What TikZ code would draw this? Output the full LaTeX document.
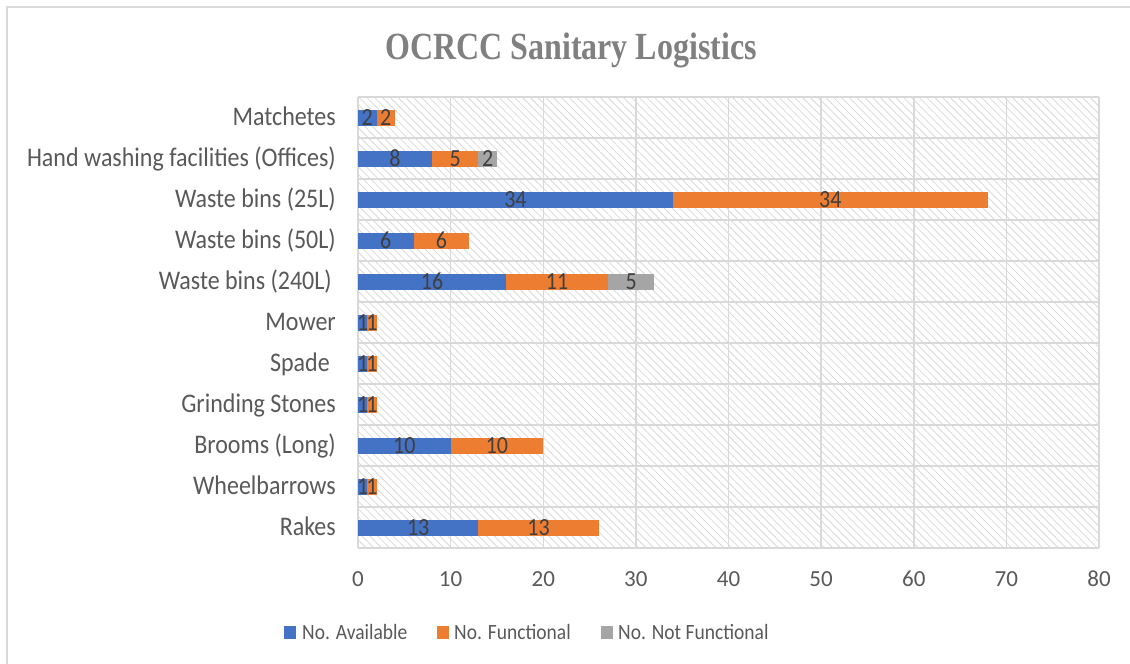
\documentclass[tikz,border=0pt]{standalone}
\usepackage{fontspec}
\usepackage{graphicx}
\setmainfont{Carlito}
\newfontfamily\titlefont{Liberation Serif}
\usetikzlibrary{patterns.meta}
\definecolor{cblue}{HTML}{4472C4}
\definecolor{corange}{HTML}{ED7D31}
\definecolor{cgray}{HTML}{A5A5A5}
\definecolor{gridc}{HTML}{D9D9D9}
\definecolor{txtc}{HTML}{595959}
\definecolor{lblc}{HTML}{404040}
\definecolor{ttlc}{HTML}{808080}
\newcommand{\vstretch}[2]{\scalebox{1}[#1]{#2}}
\tikzset{
  gridline/.style={gridc, line width=1.5pt},
  catlabel/.style={anchor=base east, inner sep=0pt, text=txtc, font=\fontsize{24}{28}\selectfont},
  ticklabel/.style={anchor=base, inner sep=0pt, text=txtc, font=\fontsize{23}{26}\selectfont},
  datalabel/.style={anchor=center, inner sep=0pt, text=lblc, font=\fontsize{22}{24}\selectfont},
  legtext/.style={anchor=base west, inner sep=0pt, text=txtc, font=\fontsize{19.5}{22}\selectfont},
  legbox/.style={minimum width=12pt, minimum height=13pt, inner sep=0pt, anchor=south west}
}
\begin{document}
\begin{tikzpicture}[x=1pt,y=-1pt]
\useasboundingbox (0,0) rectangle (1130,664);
\fill[white] (0,0) rectangle (1130,664);
% outer chart border
\draw[gridc, line width=1.5pt] (7,664) -- (7,7) -- (1130,7);
% title
\node[anchor=base, inner sep=0pt, text=ttlc, font=\titlefont\bfseries\fontsize{32}{36}\selectfont] (title) at (571,59.5) {\vstretch{1.2}{OCRCC Sanitary Logistics}};
% plot area hatch
\fill[pattern={Lines[angle=-45,distance=5.5pt,line width=0.8pt]}, pattern color=gridc] (358,97) rectangle (1099,548);
% gridlines
\foreach \k in {0,...,8} {
  \draw[gridline] ({358+92.625*\k},97) -- ({358+92.625*\k},548);
  \pgfmathtruncatemacro{\tv}{10*\k}
  \node[ticklabel] (tick\k) at ({358+92.625*\k},586) {\tv};
}
\foreach \r in {0,...,11} {
  \draw[gridline] (358,{97+41*\r}) -- (1099,{97+41*\r});
}
% bars
\foreach \name/\a/\b/\c [count=\i] in {
  Matchetes/2/2/0,
  Hand washing facilities (Offices)/8/5/2,
  Waste bins (25L)/34/34/0,
  Waste bins (50L)/6/6/0,
  Waste bins (240L)\hspace{4pt}/16/11/5,
  Mower/1/1/0,
  Spade\hspace{6pt}/1/1/0,
  Grinding Stones/1/1/0,
  Brooms (Long)/10/10/0,
  Wheelbarrows/1/1/0,
  Rakes/13/13/0} {
  \pgfmathsetmacro{\yc}{97+41*(\i-0.5)}
  \pgfmathsetmacro{\xa}{358+\a*9.2625}
  \pgfmathsetmacro{\xb}{358+(\a+\b)*9.2625}
  \pgfmathsetmacro{\xc}{358+(\a+\b+\c)*9.2625}
  \node[catlabel] (cat\i) at (336,\yc+8) {\vstretch{1.12}{\name}};
  \fill[cblue] (358,\yc-8) rectangle (\xa,\yc+8);
  \fill[corange] (\xa,\yc-8) rectangle (\xb,\yc+8);
  \ifnum\c>0
    \fill[cgray] (\xb,\yc-8) rectangle (\xc,\yc+8);
    \node[datalabel] (lc\i) at ({(\xb+\xc)/2},\yc) {\vstretch{1.12}{\c}};
  \fi
  \node[datalabel] (la\i) at ({(358+\xa)/2},\yc) {\vstretch{1.12}{\a}};
  \node[datalabel] (lb\i) at ({(\xa+\xb)/2},\yc) {\vstretch{1.12}{\b}};
}
% legend
\node[legbox, fill=cblue] (kA) at (284,639) {};
\node[legtext] (tA) at (302,639) {\vstretch{1.12}{No. Available}};
\node[legbox, fill=corange] (kB) at (437,639) {};
\node[legtext] (tB) at (454,639) {\vstretch{1.12}{No. Functional}};
\node[legbox, fill=cgray] (kC) at (601,639) {};
\node[legtext] (tC) at (618,639) {\vstretch{1.12}{No. Not Functional}};
\end{tikzpicture}
\end{document}
